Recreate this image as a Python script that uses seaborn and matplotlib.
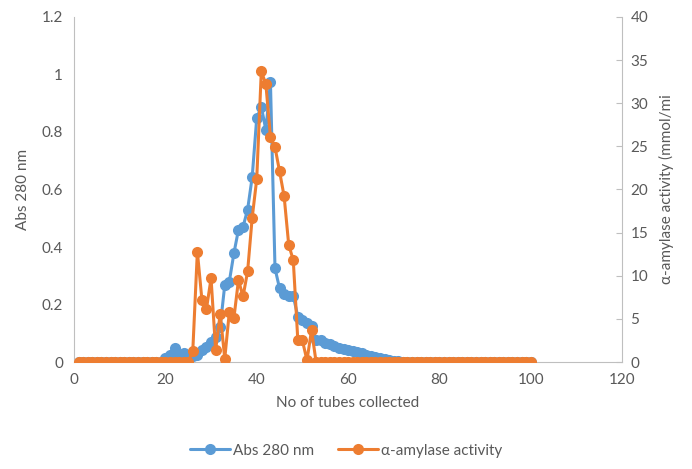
import numpy as np
import pandas as pd
import seaborn as sns
import matplotlib.pyplot as plt

# tube numbers 1..100
tubes = list(range(1, 101))

# Abs 280 nm (left axis), tubes 1..100
abs_280 = ([0.0] * 19 +
           [0.015, 0.025, 0.05, 0.022, 0.03, 0.025, 0.02, 0.024, 0.042, 0.053,
            0.071, 0.088, 0.123, 0.268, 0.28, 0.378, 0.46, 0.47, 0.53, 0.642,
            0.848, 0.888, 0.807, 0.975, 0.326, 0.256, 0.235, 0.23, 0.23, 0.158,
            0.145, 0.135, 0.125, 0.077, 0.075, 0.068, 0.062, 0.055, 0.05, 0.045,
            0.042, 0.038, 0.034, 0.03, 0.026, 0.022, 0.019, 0.015, 0.011, 0.007,
            0.004, 0.002] +
           [0.0] * 29)

# alpha-amylase activity (right axis), tubes 1..100
amylase = ([0.0] * 25 +
           [1.3, 12.8, 7.2, 6.2, 9.7, 1.4, 5.6, 0.4, 5.8, 5.1,
            9.5, 7.6, 10.5, 16.7, 21.2, 33.7, 32.2, 26.1, 24.9, 22.1,
            19.2, 13.6, 11.8, 2.5, 2.5, 0.2, 3.7] +
           [0.0] * 48)

df = pd.DataFrame({"tube": tubes, "abs": abs_280, "amy": amylase})

sns.set_style("white")
plt.rcParams['font.family'] = ['Lato', 'DejaVu Sans']

blue = "#5B9BD5"
orange = "#ED7D31"
grey = "#595959"

fig = plt.figure(figsize=(6.92, 4.69), dpi=100)
ax = fig.add_axes([0.107, 0.228, 0.792, 0.736])
ax2 = ax.twinx()

sns.lineplot(data=df, x="tube", y="abs", ax=ax, color=blue, marker="o",
             markersize=8, markeredgewidth=0, linewidth=2.2, label="Abs 280 nm",
             legend=False)
sns.lineplot(data=df, x="tube", y="amy", ax=ax2, color=orange, marker="o",
             markersize=8, markeredgewidth=0, linewidth=2.2,
             label="α-amylase activity", legend=False)

ax.set_xlim(0, 120)
ax.set_ylim(0, 1.2)
ax2.set_ylim(0, 40)
ax.set_xticks(range(0, 121, 20))
ax.set_yticks([0, 0.2, 0.4, 0.6, 0.8, 1, 1.2])
ax.set_yticklabels(["0", "0.2", "0.4", "0.6", "0.8", "1", "1.2"])
ax2.set_yticks(range(0, 41, 5))

for a in (ax, ax2):
    for s in a.spines.values():
        s.set_color("#BFBFBF")
    a.spines["top"].set_visible(False)
ax.spines["right"].set_visible(False)
ax2.spines["left"].set_visible(False)
ax2.spines["bottom"].set_visible(False)

ax.tick_params(axis="both", length=0, labelsize=11, labelcolor=grey, pad=8)
ax2.tick_params(axis="y", direction="in", length=4, color="#BFBFBF",
                labelsize=11, labelcolor=grey, pad=6)

ax.set_xlabel("No of tubes collected", fontsize=11, color=grey, labelpad=6)
ax.set_ylabel("Abs 280 nm", fontsize=11, color=grey, labelpad=8)
ax2.set_ylabel("α-amylase activity (mmol/mi", fontsize=11, color=grey, labelpad=8)

h1, l1 = ax.get_legend_handles_labels()
h2, l2 = ax2.get_legend_handles_labels()
fig.legend(h1 + h2, l1 + l2, loc="lower center", ncol=2, frameon=False,
           fontsize=11, labelcolor=grey, bbox_to_anchor=(0.5, -0.005),
           handlelength=2.6, handletextpad=0.2, columnspacing=1.6)

fig.savefig("out.png", dpi=100)
